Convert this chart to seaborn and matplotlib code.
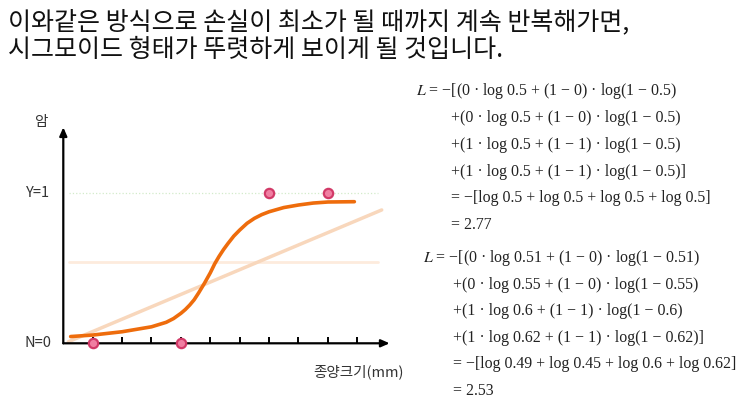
import numpy as np
import pandas as pd
import matplotlib
matplotlib.use('Agg')
import matplotlib.pyplot as plt
import seaborn as sns

# title text
title_lines = ['이와같은 방식으로 손실이 최소가 될 때까지 계속 반복해가면,',
               '시그모이드 형태가 뚜렷하게 보이게 될 것입니다.']

# sigmoid curve
curve_x = [0.25, 1.0, 2.0, 3.0, 3.5, 3.75, 4.0, 4.15, 4.3, 4.45, 4.6, 4.8, 5.0, 5.15, 5.3, 5.45, 5.6, 5.8,
           6.0, 6.25, 6.5, 6.75, 7.0, 7.5, 8.0, 8.5, 9.0, 9.9]
curve_y = [0.045, 0.055, 0.077, 0.11, 0.14, 0.165, 0.20, 0.225, 0.255, 0.29, 0.335, 0.40, 0.47, 0.53, 0.58,
           0.625, 0.665, 0.715, 0.755, 0.80, 0.833, 0.858, 0.877, 0.905, 0.922, 0.935, 0.942, 0.944]

# old straight (linear) fit, faint
line_x = [0.17, 10.83]
line_y = [0.01, 0.889]
half_y = 0.544
one_y = 1.0

# observations
pts_x = [1, 4, 7, 9]
pts_y = [0, 0, 1, 1]
ticks = [1, 2, 3, 4, 5, 6, 7, 8, 9, 10]

eq1 = ['$L$ = −[(0 · log 0.5 + (1 − 0) · log(1 − 0.5)',
       '+(0 · log 0.5 + (1 − 0) · log(1 − 0.5)',
       '+(1 · log 0.5 + (1 − 1) · log(1 − 0.5)',
       '+(1 · log 0.5 + (1 − 1) · log(1 − 0.5)]',
       '= −[log 0.5 + log 0.5 + log 0.5 + log 0.5]',
       '= 2.77']
eq2 = ['$L$ = −[(0 · log 0.51 + (1 − 0) · log(1 − 0.51)',
       '+(0 · log 0.55 + (1 − 0) · log(1 − 0.55)',
       '+(1 · log 0.6 + (1 − 1) · log(1 − 0.6)',
       '+(1 · log 0.62 + (1 − 1) · log(1 − 0.62)]',
       '= −[log 0.49 + log 0.45 + log 0.6 + log 0.62]',
       '= 2.53']

sns.set_style('white')
plt.rcParams['font.family'] = ['Noto Sans CJK KR', 'DejaVu Sans']
plt.rcParams['mathtext.fontset'] = 'stix'

W, H = 742, 409
fig = plt.figure(figsize=(W / 100, H / 100), dpi=100)
fig.patch.set_facecolor('white')

def px(x, y):
    return x / W, 1 - y / H

# title
for i, t in enumerate(title_lines):
    fig.text(*px(8, 22 + i * 28), t, fontsize=18, color='#111111', va='center', ha='left',
             fontweight='medium')

# chart axes placed in pixels: origin at (63.3, 343.3), 29.4 px per x unit, 150 px per y unit
ax = fig.add_axes([50 / W, (H - 360) / H, 350 / W, 240 / H])
ax.set_xlim((50 - 63.3) / 29.4, (400 - 63.3) / 29.4)
ax.set_ylim((343.3 - 360) / 150, (343.3 - 120) / 150)
ax.axis('off')

ax.plot([0.2, 10.7], [one_y, one_y], color='#d3ebca', lw=0.9, ls=':')
ax.plot([0.2, 10.7], [half_y, half_y], color='#fdebdd', lw=2)
sns.lineplot(x=line_x, y=line_y, ax=ax, color='#f8d7bc', lw=2.5)
sns.lineplot(x=curve_x, y=curve_y, ax=ax, color='#ee6c0c', lw=2.6, sort=False)

# axes with arrows
ax.annotate('', xy=(11.1, 0), xytext=(0, 0),
            arrowprops=dict(arrowstyle='-|>,head_length=0.5,head_width=0.22', color='black', lw=1.6, shrinkA=0, shrinkB=0))
ax.annotate('', xy=(0, 1.44), xytext=(0, 0),
            arrowprops=dict(arrowstyle='-|>,head_length=0.5,head_width=0.22', color='black', lw=1.6, shrinkA=0, shrinkB=0))
ax.vlines(ticks, 0, 0.045, color='black', lw=1.4)

sns.scatterplot(x=pts_x, y=pts_y, ax=ax, s=45, color='#f07fa2', edgecolor='#d23a68', linewidth=1.6, zorder=5)

fig.text(*px(41, 122), '암', fontsize=10.5, color='#333333', ha='center', va='center')
fig.text(*px(38, 193), 'Y=1', fontsize=10.5, color='#333333', ha='center', va='center')
fig.text(*px(38, 343), 'N=0', fontsize=10.5, color='#333333', ha='center', va='center')
fig.text(*px(313, 372), '종양크기(mm)', fontsize=10.5, color='#333333', ha='left', va='center')

# equations
serif = ['Liberation Serif', 'DejaVu Serif']
ys1 = [91, 118, 145, 172, 198, 225]
for i, t in enumerate(eq1):
    fig.text(*px(416 if i == 0 else 451, ys1[i]), t, fontsize=11.4, color='#222222', ha='left', va='center',
             family=serif)
ys2 = [258, 285, 311, 338, 364, 391]
for i, t in enumerate(eq2):
    fig.text(*px(423 if i == 0 else 453, ys2[i]), t, fontsize=11.4, color='#222222', ha='left', va='center',
             family=serif)

fig.savefig('out.png', dpi=100)
